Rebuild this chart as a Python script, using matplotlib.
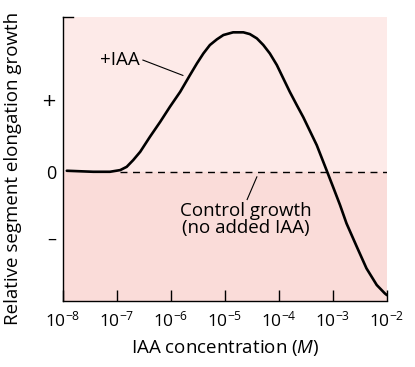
import matplotlib
matplotlib.use("Agg")
import matplotlib.pyplot as plt

plt.rcParams['font.family'] = ['Open Sans', 'DejaVu Sans']
plt.rcParams['mathtext.fontset'] = 'custom'
plt.rcParams['mathtext.rm'] = 'Open Sans'
plt.rcParams['mathtext.it'] = 'Open Sans:italic'

# log10 of IAA concentration (M) and relative growth
log_conc = [-7.93, -7.44, -7.13, -6.94, -6.82, -6.70, -6.57, -6.39, -6.20, -6.02,
            -5.83, -5.65, -5.52, -5.40, -5.28, -5.15, -5.03, -4.85, -4.66, -4.54,
            -4.41, -4.29, -4.17, -4.04, -3.92, -3.80, -3.67, -3.55, -3.30, -3.12,
            -3.00, -2.87, -2.75, -2.56, -2.38, -2.19, -2.04, -2.0]
growth = [0.014, 0.0, 0.0, 0.023, 0.068, 0.160, 0.274, 0.479, 0.684, 0.890,
          1.095, 1.323, 1.484, 1.621, 1.736, 1.814, 1.873, 1.910, 1.910, 1.886,
          1.827, 1.736, 1.621, 1.462, 1.278, 1.095, 0.912, 0.747, 0.363, 0.023,
          -0.205, -0.455, -0.707, -1.026, -1.323, -1.551, -1.666, -1.69]

xticks = [-8, -7, -6, -5, -4, -3, -2]
xticklabels = [r'$10^{%d}$' % t for t in xticks]
yticks = [1, 0, -0.91]
yticklabels = ['+', '0', '\u2013']

upper_col = '#fdeae8'
lower_col = '#fadcd9'

fig = plt.figure(figsize=(4.15, 3.67), dpi=100)
ax = fig.add_axes([63/415, 1 - 301/367, 324/415, 284/367])

ymin, ymax = -1.77, 2.12
ax.axhspan(0, ymax, color=upper_col, zorder=0)
ax.axhspan(ymin, 0, color=lower_col, zorder=0)

# control level
ax.plot([-6.95, -2], [0, 0], color='black', lw=1.0, dashes=(5, 4), zorder=2)
ax.plot(log_conc, growth, color='black', lw=1.9, solid_capstyle='round',
        solid_joinstyle='round', zorder=3)

ax.set_xlim(-8, -2)
ax.set_ylim(ymin, ymax)

for s in ['top', 'right']:
    ax.spines[s].set_visible(False)
for s in ['left', 'bottom']:
    ax.spines[s].set_linewidth(1.0)
ax.plot([0, 0.03], [1, 1], color='black', lw=1.0, transform=ax.transAxes, clip_on=False)

ax.set_xticks(xticks)
ax.set_xticklabels(xticklabels, fontsize=12.5)
ax.tick_params(axis='x', direction='in', length=8, width=1.0, pad=7)
ax.set_yticks(yticks)
ax.set_yticklabels(yticklabels, fontsize=13)
for lab in ax.get_yticklabels():
    if lab.get_text() == '+':
        lab.set_fontfamily('DejaVu Sans')
ax.tick_params(axis='y', length=0, pad=5)

ax.set_xlabel(r'IAA concentration ($\mathit{M}$)', fontsize=13.5, labelpad=5)
ax.set_ylabel('Relative segment elongation growth', fontsize=13.5)
ax.yaxis.set_label_coords(-0.127, 0.467)

ax.text(-6.58, 1.53, '+IAA', fontsize=13.5, ha='right', va='center')
ax.plot([-6.52, -5.78], [1.53, 1.32], color='black', lw=0.8)

ax.text(-4.61, -0.65, 'Control growth\n(no added IAA)', fontsize=13.5,
        ha='center', va='center', linespacing=0.95)
ax.plot([-4.41, -4.59], [-0.07, -0.38], color='black', lw=0.8)

fig.savefig('out.png', dpi=100)
